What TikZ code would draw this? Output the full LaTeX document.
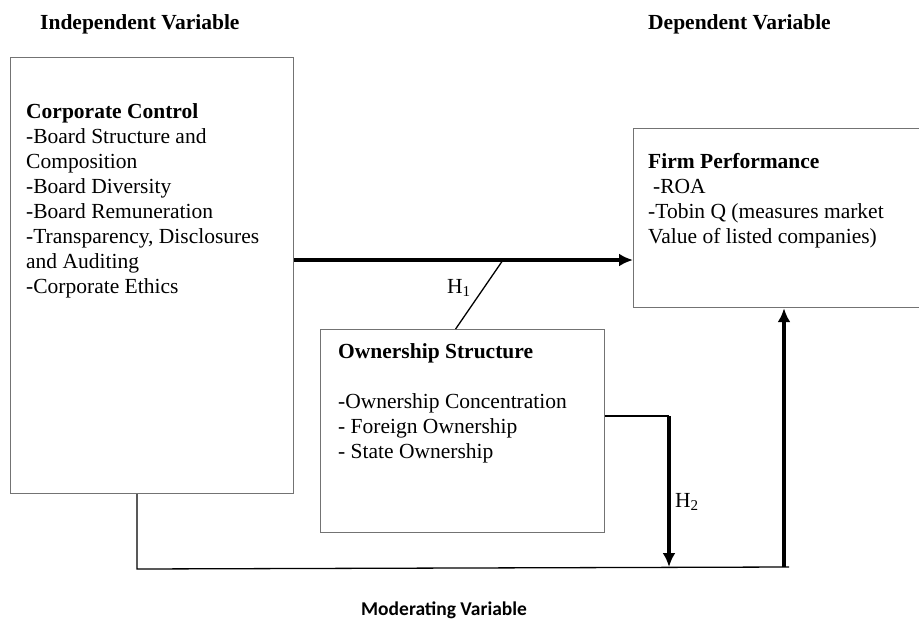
\documentclass[tikz,border=0pt]{standalone}
\usepackage{fontspec}
\setmainfont{Liberation Serif}
\newfontfamily\modfont{Carlito}
\usetikzlibrary{arrows.meta}
\tikzset{
	box/.style={draw=black!55, line width=1.2pt, rectangle, inner sep=0pt, anchor=north west},
	txt/.style={inner sep=0pt, anchor=north west, align=left, font=\fontsize{21.5}{25}\selectfont},
	lbl/.style={inner sep=0pt, anchor=base west, font=\fontsize{21.5}{25}\selectfont},
	head/.style={lbl, font=\fontsize{21.5}{25}\selectfont\bfseries},
	link/.style={line width=1.3pt},
	bigarrow/.style={line width=3.4pt, -{Latex[length=14pt,width=13pt]}}
}
\begin{document}
\begin{tikzpicture}[x=1pt,y=-1pt]
	\useasboundingbox (0,0) rectangle (919,619);
	\clip (0,0) rectangle (919,619);
	\fill[white] (0,0) rectangle (919,619);

	\node[head] (indep) at (40,29) {Independent Variable};
	\node[head] (dep) at (648,29) {Dependent Variable};
	\node[lbl, font=\modfont\bfseries\fontsize{19.5}{22}\selectfont] (moderating) at (361,615) {Moderating Variable};

	\node[box, minimum width=283pt, minimum height=436pt] (cc) at (10,57) {};
	\node[txt] (cctext) at (26,103.5) {\textbf{Corporate Control}\\-Board Structure and\\Composition\\-Board Diversity\\-Board Remuneration\\-Transparency, Disclosures\\and Auditing\\-Corporate Ethics};

	\node[box, minimum width=300pt, minimum height=179pt] (fp) at (633,128) {};
	\node[txt] (fptext) at (648,153.5) {\textbf{Firm Performance}\\\hspace{5pt}-ROA\\-Tobin Q (measures market\\Value of listed companies)};

	\node[box, minimum width=284pt, minimum height=203pt] (os) at (320,329) {};
	\node[txt] (ostext) at (338,343.5) {\textbf{Ownership Structure}\\[25pt]-Ownership Concentration\\- Foreign Ownership\\- State Ownership};

	\coordinate (h1row) at (0,260);
	\coordinate (h1foot) at (503,260);
	\coordinate (h2top) at (669,416);
	\coordinate (h2end) at (669,567);
	\coordinate (modleft) at (137,569);
	\coordinate (modright) at (789,567);
	\coordinate (upfoot) at (784,567);

	\draw[bigarrow] (cc.east |- h1row) -- (fp.west |- h1row);
	\draw[link] (h1foot) -- ([xshift=-7pt]os.north);
	\node[lbl] (h1) at (447,293) {H\textsubscript{1}};

	\draw[link] (os.east |- h2top) -- (h2top);
	\draw[bigarrow] (h2top) -- (h2end);
	\node[lbl] (h2) at (675,507) {H\textsubscript{2}};

	\draw[link] (cc.south -| modleft) -- (modleft) -- (modright);
	\draw[bigarrow] (upfoot) -- (upfoot |- fp.south);
\end{tikzpicture}
\end{document}
